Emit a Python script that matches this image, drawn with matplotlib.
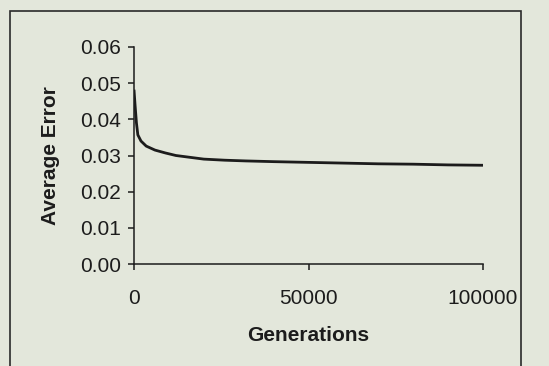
import matplotlib
matplotlib.use("Agg")
import matplotlib.pyplot as plt
from matplotlib.patches import Rectangle
from matplotlib.ticker import FormatStrFormatter

# values
generations = [0, 300, 700, 1100, 2000, 3500, 6000, 9000, 12000, 16000,
               20000, 26000, 32000, 40000, 50000, 60000, 70000, 80000, 90000, 100000]
avg_error = [0.0482, 0.0440, 0.0390, 0.0357, 0.0340, 0.0326, 0.0315, 0.0307, 0.0300, 0.0295,
             0.0290, 0.0287, 0.0285, 0.0283, 0.0281, 0.0279, 0.0277, 0.0276, 0.0274, 0.0273]
x_ticks = [0, 50000, 100000]
y_ticks = [0.00, 0.01, 0.02, 0.03, 0.04, 0.05, 0.06]

bg = "#e3e7db"
ink = "#1c1c1c"
plt.rcParams["font.family"] = ["Liberation Sans", "DejaVu Sans"]

fig = plt.figure(figsize=(5.49, 3.66), dpi=100, facecolor=bg)
ax = fig.add_axes([134 / 549, 1 - 264 / 366, 349 / 549, 217 / 366])
ax.set_facecolor(bg)

ax.plot(generations, avg_error, color=ink, lw=2.0, solid_capstyle="butt")

ax.set_xlim(0, 100000)
ax.set_ylim(0, 0.06)
ax.set_xticks(x_ticks)
ax.set_yticks(y_ticks)
ax.yaxis.set_major_formatter(FormatStrFormatter("%.2f"))

for s in ["top", "right"]:
    ax.spines[s].set_visible(False)
for s in ["left", "bottom"]:
    ax.spines[s].set_color(ink)
    ax.spines[s].set_linewidth(1.1)

ax.tick_params(axis="y", direction="out", length=4.5, width=1.1, colors=ink,
               labelsize=15, pad=5)
ax.tick_params(axis="x", direction="out", length=4, width=1.1, colors=ink,
               labelsize=15, pad=14)

ax.set_xlabel("Generations", fontsize=15, fontweight="bold", color=ink, labelpad=13)
ax.set_ylabel("Average Error", fontsize=15, fontweight="bold", color=ink, labelpad=14)

# frame drawn around the figure in the original scan
fig.patches.append(Rectangle((10 / 549, -0.05), 511 / 549, 1.05 - 11 / 366,
                             transform=fig.transFigure, fill=False,
                             edgecolor="#2a2a2a", lw=1.2, clip_on=False))

fig.savefig("out.png", dpi=100, facecolor=bg)
